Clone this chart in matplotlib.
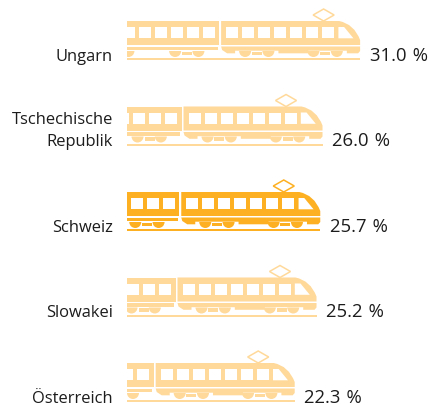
import matplotlib
matplotlib.use('Agg')
import matplotlib.pyplot as plt
from matplotlib.path import Path
from matplotlib.patches import PathPatch, Rectangle, Wedge, Polygon
from matplotlib.transforms import Affine2D

plt.rcParams['font.family'] = ['Open Sans', 'DejaVu Sans']

countries = ['Ungarn', 'Tschechische\nRepublik', 'Schweiz', 'Slowakei', 'Österreich']
values = [31.0, 26.0, 25.7, 25.2, 22.3]
value_labels = ['31.0\u2004%', '26.0\u2004%', '25.7\u2004%', '25.2\u2004%', '22.3\u2004%']
highlight = 'Schweiz'

LIGHT = '#FFD99A'
STRONG = '#FDB022'
TEXT = '#1c1c1c'

W, H = 431, 406
LEFT = 127
PX_X = 7.52      # pixels per percent
PX_Y = 85.5      # pixels per row
FIRST = 61       # rail bottom of first row

fig = plt.figure(figsize=(W / 100, H / 100), dpi=100)
ax = fig.add_axes([LEFT / W, 0, (W - LEFT) / W, 1])
ax.set_xlim(0, (W - LEFT) / PX_X)
ax.set_ylim((H - FIRST) / PX_Y, -FIRST / PX_Y)
ax.axis('off')


# train glyph, in pixels relative to nose tip / rail bottom (y up)
def draw_train(value, row, color):
    tr = Affine2D().scale(1 / PX_X, -1 / PX_Y).translate(value, row) + ax.transData

    def poly(pts, c=color):
        ax.add_patch(Polygon(pts, closed=True, fc=c, ec='none', transform=tr))

    def box(x0, x1, y0, y1, c=color):
        ax.add_patch(Rectangle((x0, y0), x1 - x0, y1 - y0, fc=c, ec='none', transform=tr))

    # engine body
    verts = [(-139, 39), (-21, 39), (-6, 36), (0, 20), (0, 15), (-139, 15), (-139, 39)]
    codes = [Path.MOVETO, Path.LINETO, Path.CURVE3, Path.CURVE3, Path.LINETO, Path.LINETO, Path.CLOSEPOLY]
    ax.add_patch(PathPatch(Path(verts, codes), fc=color, ec='none', transform=tr))

    # skirt
    poly([(-139, 13.5), (0, 13.5), (0, 9), (-2, 6.7), (-13.3, 6.7), (-13.3, 9.3), (-51.7, 9.3),
          (-51.7, 6.7), (-81.7, 6.7), (-81.7, 9.3), (-125, 9.3), (-125, 6.7), (-133, 6.7), (-138, 10)])

    # rear car
    box(-300, -141, 15, 39)
    box(-300, -142.3, 10, 13.5)

    # windows
    for i in range(7):
        x = -134 + 16 * i
        box(x, x + 12, 21.7, 33, 'white')
    poly([(-21.7, 33), (-16, 33), (-6.7, 21.7), (-21.7, 21.7)], 'white')
    for i in range(8):
        x = -157.5 - 16 * i
        box(x, x + 12, 21.7, 33, 'white')

    # bogies
    for cx in [-23.3, -46.7, -91.7, -115, -161.7, -185, -231.7, -255]:
        ax.add_patch(Wedge((cx, 9), 6, 180, 360, fc=color, ec='none', transform=tr))
    for x0 in [-108.3, -178, -248, -40]:
        box(x0, x0 + 10, 5, 8.3)

    # rail
    box(-300, 0, 0, 2)

    # pantograph
    ax.add_patch(Polygon([(-47, 45), (-36.5, 51), (-26, 45), (-36.5, 39)], closed=True, fc='none',
                         ec=color, lw=1.1, transform=tr))


for i, (name, val, lab) in enumerate(zip(countries, values, value_labels)):
    draw_train(val, i, STRONG if name == highlight else LIGHT)
    ax.annotate(name, xy=(0, i), xytext=(-10, 0), textcoords='offset points', ha='right', va='baseline',
                multialignment='right', fontsize=11.9, color=TEXT, annotation_clip=False, linespacing=1.5)
    ax.annotate(lab, xy=(val, i), xytext=(7, 0), textcoords='offset points', ha='left', va='baseline',
                fontsize=13.3, color=TEXT, annotation_clip=False)

fig.savefig('out.png', dpi=100)
